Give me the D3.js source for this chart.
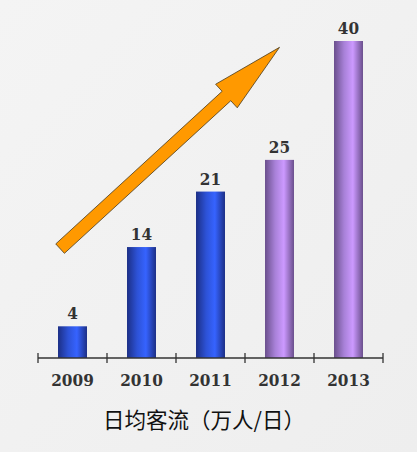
<!DOCTYPE html>
<html>
<head>
  <meta charset="utf-8" />
  <script src="https://d3js.org/d3.v7.min.js"></script>
</head>
<body>
  <div id='graph'></div>
</body>
<style>
  body { margin: 0; }
  .num { font-family: 'DejaVu Serif Condensed', 'DejaVu Serif'; font-stretch: condensed; font-weight: bold; }
</style>
<script>
  // data
  const years = ['2009', '2010', '2011', '2012', '2013']
  const values = [4, 14, 21, 25, 40]
  const colorGroup = ['blue', 'blue', 'blue', 'purple', 'purple']
  const title = '日均客流（万人/日）'

  const W = 417, H = 452
  const svg = d3.select('#graph').append('svg')
    .attr('width', W)
    .attr('height', H)

  const defs = svg.append('defs')
  const bg = defs.append('linearGradient').attr('id', 'bg')
    .attr('x1', 0).attr('y1', 0).attr('x2', 1).attr('y2', 1)
  bg.append('stop').attr('offset', '0%').attr('stop-color', '#f4f4f4')
  bg.append('stop').attr('offset', '100%').attr('stop-color', '#eeeeee')

  // bar gradients: dark edges, bright inside
  function barGrad (id, dark, mid, light) {
    const g = defs.append('linearGradient').attr('id', id)
      .attr('x1', 0).attr('y1', 0).attr('x2', 1).attr('y2', 0)
    g.append('stop').attr('offset', '0%').attr('stop-color', dark)
    g.append('stop').attr('offset', '35%').attr('stop-color', mid)
    g.append('stop').attr('offset', '65%').attr('stop-color', light)
    g.append('stop').attr('offset', '100%').attr('stop-color', dark)
  }
  barGrad('blue', '#1c2f86', '#2d52d6', '#3663ff')
  barGrad('purple', '#6a4f8c', '#a881d8', '#cc99ff')

  svg.append('rect').attr('width', W).attr('height', H).attr('fill', 'url(#bg)')

  const xScale = d3.scaleBand().domain(years).range([38, 383]).paddingInner(0.58).paddingOuter(0.29)
  const band = d3.scaleBand().domain(years).range([38, 383])
  const yScale = d3.scaleLinear().domain([0, 40]).range([358, 41])

  // bars
  svg.selectAll('rect.bar')
    .data(values)
    .enter()
    .append('rect')
    .attr('class', 'bar')
    .attr('x', (d, i) => xScale(years[i]))
    .attr('y', d => yScale(d))
    .attr('width', xScale.bandwidth())
    .attr('height', d => yScale(0) - yScale(d))
    .attr('fill', (d, i) => 'url(#' + colorGroup[i] + ')')

  // value labels
  svg.selectAll('text.val')
    .data(values)
    .enter()
    .append('text')
    .attr('class', 'val num')
    .attr('x', (d, i) => band(years[i]) + band.bandwidth() / 2)
    .attr('y', d => yScale(d) - 7)
    .attr('text-anchor', 'middle')
    .attr('font-size', 17)
    .attr('fill', '#333')
    .text(d => d)

  // axis
  const axis = svg.append('g').attr('transform', 'translate(0,' + yScale(0) + ')')
  axis.append('line').attr('x1', 38).attr('x2', 383).attr('stroke', '#333').attr('stroke-width', 1.3)
  const tickX = years.map(y => band(y)).concat([band.range()[1]])
  axis.selectAll('line.tick')
    .data(tickX)
    .enter()
    .append('line')
    .attr('x1', d => d).attr('x2', d => d)
    .attr('y1', -5).attr('y2', 5)
    .attr('stroke', '#333').attr('stroke-width', 1.3)
  axis.selectAll('text')
    .data(years)
    .enter()
    .append('text')
    .attr('class', 'num')
    .attr('x', d => band(d) + band.bandwidth() / 2)
    .attr('y', 28)
    .attr('text-anchor', 'middle')
    .attr('font-size', 17)
    .attr('fill', '#333')
    .text(d => d)

  // trend arrow
  const tail = [band('2009') + band.bandwidth() * 0.32, yScale(13.8)]
  const tip = [band('2012') + band.bandwidth() / 2, yScale(39.2)]
  const dx = tip[0] - tail[0], dy = tip[1] - tail[1]
  const len = Math.sqrt(dx * dx + dy * dy)
  const ux = dx / len, uy = dy / len
  const px = -uy, py = ux
  const sw = 6.4, hw = 16, hl = 72
  const base = [tip[0] - ux * hl, tip[1] - uy * hl]
  const pt = (p, s) => [p[0] + px * s, p[1] + py * s]
  const arrow = [
    pt(tail, sw), pt(base, sw), pt(base, hw), tip,
    pt(base, -hw), pt(base, -sw), pt(tail, -sw)
  ]
  svg.append('path')
    .attr('d', d3.line()(arrow) + 'Z')
    .attr('fill', '#ff9900')
    .attr('stroke', '#4a3a1a')
    .attr('stroke-width', 0.8)
    .attr('stroke-linejoin', 'miter')

  // title
  svg.append('text')
    .attr('x', 204)
    .attr('y', 428)
    .attr('text-anchor', 'middle')
    .attr('font-family', 'Noto Sans CJK SC')
    .attr('font-size', 21.5)
    .attr('fill', '#111')
    .text(title)
</script>
</html>
